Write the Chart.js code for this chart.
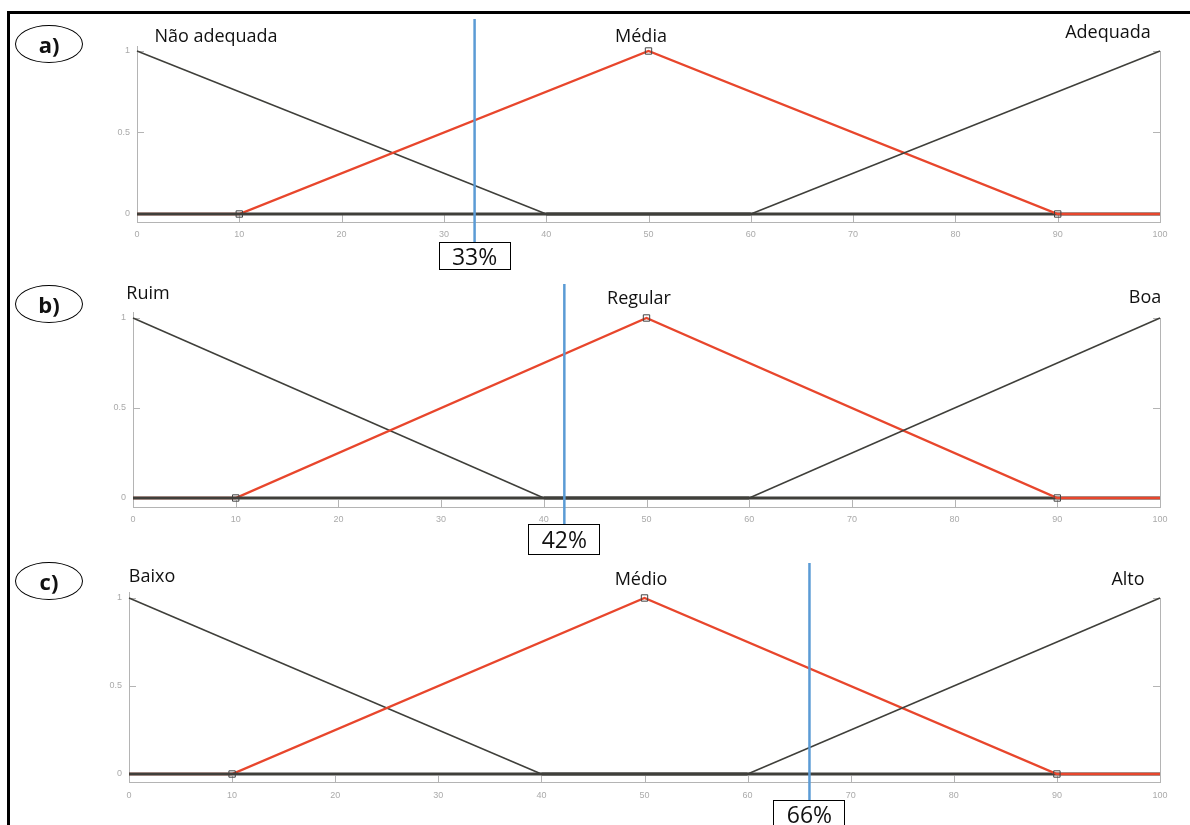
<!DOCTYPE html>
<html lang="pt">
<head>
<meta charset="UTF-8">
<title>Funções de pertinência</title>
<script src="https://cdn.jsdelivr.net/npm/chart.js@4.4.0/dist/chart.umd.min.js"></script>
<style>
    body { margin: 0; background: #ffffff; font-family: "Open Sans", sans-serif; }
    #page { position: relative; width: 1190px; height: 825px; overflow: hidden; background: #ffffff; }
    #page canvas { position: absolute; left: 0; }
    .frame { position: absolute; left: 7px; top: 11px; width: 1300px; height: 900px; border-left: 3px solid #000; border-top: 3px solid #000; }
    .tag { position: absolute; left: 15px; width: 66px; height: 36px; border: 1.5px solid #000; border-radius: 50%;
           font-weight: bold; font-size: 22px; line-height: 36px; text-align: center; color: #111; }
    .mf { position: absolute; font-size: 18px; line-height: 1; color: #111; white-space: nowrap; transform: translate(-50%, -50%); }
    .val { position: absolute; width: 70px; border: 1.5px solid #000; background: #fff; font-size: 23px;
           text-align: center; color: #111; line-height: 1; display: flex; align-items: center; justify-content: center; }
</style>
</head>
<body>
<div id="page">
    <div class="frame"></div>
</div>
<script>
    // membership functions (same for all three variables)
    const lowX = [0, 40, 100];
    const lowY = [1, 0, 0];
    const midX = [0, 10, 50, 90, 100];
    const midY = [0, 0, 1, 0, 0];
    const highX = [0, 60, 100];
    const highY = [0, 0, 1];

    const panelTags = ['a)', 'b)', 'c)'];
    const lowNames = ['Não adequada', 'Ruim', 'Baixo'];
    const midNames = ['Média', 'Regular', 'Médio'];
    const highNames = ['Adequada', 'Boa', 'Alto'];
    const inputValues = [33, 42, 66];
    const yTicks = [0, 0.5, 1];

    // page geometry of each panel
    const layout = [
        { top: 0, h: 270, left: 137, right: 1160, yTop: 46.1, yBot: 222.15, lineTop: 19, boxTop: 242, boxH: 26, tagTop: 25,
          names: [[216, 35], [641, 35], [1108, 31]] },
        { top: 270, h: 270, left: 133, right: 1160, yTop: 42.6, yBot: 237, lineTop: 284, boxTop: 524, boxH: 29, tagTop: 285,
          names: [[148, 292], [639, 297], [1145, 296]] },
        { top: 540, h: 285, left: 129, right: 1160, yTop: 52.7, yBot: 242.8, lineTop: 563, boxTop: 800, boxH: 27, tagTop: 562,
          names: [[152, 575], [641, 578], [1128, 578]] }
    ];

    const pts = (xs, ys) => xs.map((x, i) => ({ x: x, y: ys[i] }));
    // flat parts at zero look heavier, as in the original plot
    const darkSeg = { borderWidth: c => (c.p0.parsed.y === 0 && c.p1.parsed.y === 0) ? 3 : 1.5 };

    const axisPlugin = {
        id: 'axisExtras',
        beforeDatasetsDraw(chart) {
            const { ctx, chartArea: a, scales: { x, y } } = chart;
            ctx.save();
            ctx.strokeStyle = '#b4b4b4';
            ctx.lineWidth = 1;
            ctx.beginPath();
            ctx.moveTo(a.right + 0.5, y.getPixelForValue(1));
            ctx.lineTo(a.right + 0.5, a.bottom);
            x.ticks.forEach(t => {
                const px = Math.round(x.getPixelForValue(t.value)) + 0.5;
                ctx.moveTo(px, a.bottom);
                ctx.lineTo(px, a.bottom - 7);
            });
            y.ticks.forEach(t => {
                const py = Math.round(y.getPixelForValue(t.value)) + 0.5;
                ctx.moveTo(a.left, py);
                ctx.lineTo(a.left + 7, py);
                ctx.moveTo(a.right, py);
                ctx.lineTo(a.right - 7, py);
            });
            ctx.stroke();
            ctx.restore();
        },
        afterDatasetsDraw(chart, args, opts) {
            const { ctx, scales: { x } } = chart;
            const px = x.getPixelForValue(opts.value);
            ctx.save();
            ctx.strokeStyle = '#5b9bd5';
            ctx.lineWidth = 2.5;
            ctx.beginPath();
            ctx.moveTo(px, opts.lineTop);
            ctx.lineTo(px, opts.lineBot);
            ctx.stroke();
            ctx.restore();
        }
    };

    const page = document.getElementById('page');

    layout.forEach((L, i) => {
        const canvas = document.createElement('canvas');
        canvas.width = 1190;
        canvas.height = L.h;
        canvas.style.top = L.top + 'px';
        canvas.style.width = '1190px';
        canvas.style.height = L.h + 'px';
        page.appendChild(canvas);

        const chart = new Chart(canvas.getContext('2d'), {
            type: 'line',
            data: {
                datasets: [
                    { label: highNames[i], data: pts(highX, highY), borderColor: '#3f3f3a', borderWidth: 1.5, segment: darkSeg,
                      pointRadius: 0, order: 0 },
                    { label: midNames[i], data: pts(midX, midY), borderColor: '#e8462c', borderWidth: 2.4, order: 1,
                      pointStyle: 'rect', pointBorderColor: '#444', pointBorderWidth: 1, pointBackgroundColor: 'rgba(0,0,0,0)',
                      pointRadius: c => (c.dataIndex === 0 || c.dataIndex === midX.length - 1) ? 0 : 4.5 },
                    { label: lowNames[i], data: pts(lowX, lowY), borderColor: '#3f3f3a', borderWidth: 1.5, segment: darkSeg,
                      pointRadius: 0, order: 2 }
                ]
            },
            options: {
                responsive: false,
                animation: false,
                clip: false,
                layout: {
                    padding: { left: L.left - 40, right: 1190 - L.right, top: L.yTop, bottom: L.h - L.yBot - 20 }
                },
                plugins: {
                    legend: { display: false },
                    tooltip: { enabled: false },
                    axisExtras: { value: inputValues[i], lineTop: L.lineTop - L.top, lineBot: L.boxTop - L.top }
                },
                scales: {
                    x: {
                        type: 'linear', min: 0, max: 100,
                        afterFit: s => { s.height = 20; },
                        border: { display: true, color: '#b4b4b4', width: 1 },
                        grid: { drawOnChartArea: false, drawTicks: false },
                        ticks: { stepSize: 10, padding: 7, autoSkip: false, maxRotation: 0, color: '#aaaaaa',
                                 font: { family: 'Liberation Sans', size: 9 } }
                    },
                    y: {
                        type: 'linear', min: -0.05, max: 1.03,
                        afterFit: s => { s.width = 40; },
                        afterBuildTicks: s => { s.ticks = yTicks.map(v => ({ value: v })); },
                        border: { display: true, color: '#b4b4b4', width: 1 },
                        grid: { drawOnChartArea: false, drawTicks: false },
                        ticks: { padding: 7, color: '#aaaaaa', callback: v => String(v),
                                 font: { family: 'Liberation Sans', size: 9 } }
                    }
                }
            },
            plugins: [axisPlugin]
        });

        // panel tag
        const tag = document.createElement('div');
        tag.className = 'tag';
        tag.style.top = L.tagTop + 'px';
        tag.textContent = panelTags[i];
        page.appendChild(tag);

        // membership function names
        [lowNames[i], midNames[i], highNames[i]].forEach((name, k) => {
            const d = document.createElement('div');
            d.className = 'mf';
            d.style.left = L.names[k][0] + 'px';
            d.style.top = L.names[k][1] + 'px';
            d.textContent = name;
            page.appendChild(d);
        });

        // input value box under the blue line
        const box = document.createElement('div');
        box.className = 'val';
        box.style.top = L.boxTop + 'px';
        box.style.height = L.boxH + 'px';
        box.style.left = (chart.scales.x.getPixelForValue(inputValues[i]) - 36) + 'px';
        box.textContent = inputValues[i] + '%';
        page.appendChild(box);
    });
</script>
</body>
</html>
